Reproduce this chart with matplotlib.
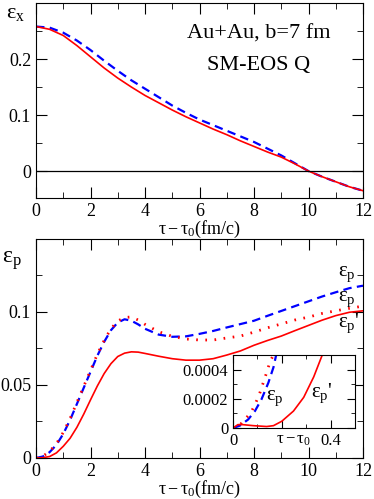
import matplotlib
matplotlib.use("Agg")
import matplotlib.pyplot as plt
from matplotlib.ticker import MultipleLocator

plt.rcParams["font.family"] = ["Liberation Serif", "DejaVu Serif"]
plt.rcParams["mathtext.fontset"] = "stix"
plt.rcParams["mathtext.default"] = "regular"

# top panel: spatial eccentricity
t_x = [0, 0.5, 1, 1.5, 2, 2.5, 3, 3.5, 4, 4.5, 5, 5.5, 6, 6.5, 7, 7.5, 8,
       8.5, 9, 9.5, 10, 10.5, 11, 11.5, 12]
ex_solid = [0.258, 0.253, 0.242, 0.224, 0.204, 0.184, 0.166, 0.150, 0.135,
            0.122, 0.109, 0.097, 0.086, 0.075, 0.065, 0.054, 0.044, 0.034,
            0.025, 0.013, 0.0, -0.010, -0.019, -0.028, -0.035]
ex_dash = [0.258, 0.256, 0.247, 0.233, 0.216, 0.197, 0.179, 0.162, 0.147,
           0.132, 0.117, 0.104, 0.092, 0.082, 0.072, 0.062, 0.052, 0.040,
           0.028, 0.014, 0.0, -0.010, -0.019, -0.028, -0.035]

# bottom panel: momentum anisotropy
t_p = [0, 0.25, 0.5, 0.75, 1, 1.25, 1.5, 1.75, 2, 2.25, 2.5, 2.75, 3, 3.25,
       3.5, 3.75, 4, 4.5, 5, 5.5, 6, 6.5, 7, 7.5, 8, 8.5, 9, 9.5, 10, 10.5,
       11, 11.5, 12]
ep_dash = [0, 0.001, 0.004, 0.009, 0.0165, 0.026, 0.037, 0.048, 0.059, 0.070,
           0.0795, 0.0875, 0.0928, 0.0950, 0.094, 0.0915, 0.0885, 0.0845,
           0.0830, 0.0833, 0.085, 0.087, 0.0894, 0.0917, 0.094, 0.0974,
           0.1007, 0.104, 0.1073, 0.1106, 0.1135, 0.1163, 0.118]
ep_dot = [0, 0.0012, 0.0045, 0.0098, 0.0175, 0.027, 0.038, 0.049, 0.060,
          0.071, 0.0805, 0.0885, 0.0938, 0.0962, 0.0966, 0.0945, 0.0915,
          0.0865, 0.0833, 0.0815, 0.0808, 0.0808, 0.0822, 0.0835, 0.0862,
          0.0892, 0.0918, 0.0945, 0.0965, 0.0990, 0.1008, 0.1025, 0.104]
ep_solid = [0, 0.0002, 0.001, 0.0035, 0.008, 0.0135, 0.021, 0.030, 0.0398,
            0.0493, 0.0578, 0.0646, 0.0695, 0.0718, 0.0727, 0.0725, 0.0716,
            0.0697, 0.068, 0.067, 0.067, 0.068, 0.0705, 0.0733, 0.0772,
            0.0805, 0.0835, 0.0872, 0.0908, 0.0944, 0.0975, 0.0998, 0.1008]

# inset: early times
ti_dot = [0, 0.02, 0.048, 0.073, 0.09, 0.108, 0.124, 0.138, 0.152, 0.166]
ei_dot = [0, 0.000005, 0.000058, 0.000104, 0.00016, 0.00023, 0.00031,
          0.00038, 0.000455, 0.0005]
ti_dash = [0, 0.028, 0.062, 0.09, 0.117, 0.145, 0.166, 0.177]
ei_dash = [0, 0.000016, 0.000058, 0.000116, 0.000197, 0.00031, 0.000416, 0.0005]
ti_solid = [0, 0.02, 0.04, 0.083, 0.138, 0.166, 0.2, 0.248, 0.29, 0.331, 0.366]
ei_solid = [0, 0.000023, 0.000023, 0.000016, 0.00001, 0.000016, 0.000046,
            0.000116, 0.00021, 0.00035, 0.0005]

RED = "#ff0000"
BLUE = "#0000ff"
fs = 13
DASH = (3.8, 2.4)
DOT = (0.6, 2.7)


def style(ax, size=fs):
    ax.tick_params(which="both", direction="in", top=True, right=True,
                   labelsize=size)
    ax.tick_params(which="major", length=8)
    ax.tick_params(which="minor", length=4)


fig = plt.figure(figsize=(3.74, 4.99), dpi=100)

# top panel
ax1 = fig.add_axes([0.0963, 0.6032, 0.8743, 0.3908])
ax1.plot(t_x, ex_dash, color=BLUE, lw=1.6, dashes=DASH)
ax1.plot(t_x, ex_solid, color=RED, lw=1.2)
ax1.axhline(0, color="black", lw=0.9)
ax1.set_xlim(0, 12)
ax1.set_ylim(-0.048, 0.3)
ax1.set_yticks([0, 0.1, 0.2])
ax1.set_yticklabels(["0", "0.1", "0.2"])
ax1.xaxis.set_major_locator(MultipleLocator(2))
ax1.xaxis.set_minor_locator(MultipleLocator(1))
ax1.yaxis.set_minor_locator(MultipleLocator(0.05))
style(ax1)
ax1.set_xlabel(r"$\tau-\tau_0$(fm/c)", fontsize=fs, labelpad=-1)
ax1.text(0.68, 0.84, "Au+Au, b=7 fm", transform=ax1.transAxes,
         fontsize=16, ha="center", va="center")
ax1.text(0.68, 0.68, "SM-EOS Q", transform=ax1.transAxes,
         fontsize=16, ha="center", va="center")
fig.text(0.015, 0.964, r"$\varepsilon_x$", fontsize=16, va="baseline")

# bottom panel
ax2 = fig.add_axes([0.0963, 0.0822, 0.8743, 0.4389])
ax2.plot(t_p, ep_dash, color=BLUE, lw=1.6, dashes=DASH)
ax2.plot(t_p, ep_dot, color=RED, lw=2.0, dashes=DOT)
ax2.plot(t_p, ep_solid, color=RED, lw=1.2)
ax2.set_xlim(0, 12)
ax2.set_ylim(0, 0.15)
ax2.set_yticks([0, 0.05, 0.1])
ax2.set_yticklabels(["0", "0.05", "0.1"])
ax2.xaxis.set_major_locator(MultipleLocator(2))
ax2.xaxis.set_minor_locator(MultipleLocator(1))
ax2.yaxis.set_minor_locator(MultipleLocator(0.025))
style(ax2)
ax2.set_xlabel(r"$\tau-\tau_0$(fm/c)", fontsize=fs, labelpad=-1)
fig.text(0.006, 0.473, r"$\varepsilon_p$", fontsize=17, va="baseline")
fig.text(0.905, 0.447, r"$\varepsilon_p$", fontsize=15, va="baseline")
fig.text(0.905, 0.397, r"$\varepsilon_p$", fontsize=15, va="baseline")
fig.text(0.905, 0.345, r"$\varepsilon_p$'", fontsize=15, va="baseline")

# inset
ax3 = fig.add_axes([0.623, 0.1423, 0.326, 0.1463])
ax3.plot(ti_dash, ei_dash, color=BLUE, lw=1.6, dashes=DASH)
ax3.plot(ti_dot, ei_dot, color=RED, lw=2.0, dashes=DOT)
ax3.plot(ti_solid, ei_solid, color=RED, lw=1.2)
ax3.set_xlim(0, 0.5)
ax3.set_ylim(0, 0.0005)
ax3.set_xticks([0, 0.2, 0.4])
ax3.set_xticklabels(["0", "", "0.4"])
ax3.set_yticks([0, 0.0002, 0.0004])
ax3.set_yticklabels(["0", "0.0002", "0.0004"])
ax3.xaxis.set_minor_locator(MultipleLocator(0.1))
ax3.yaxis.set_minor_locator(MultipleLocator(0.0001))
style(ax3, size=12)
ax3.tick_params(which="major", length=6)
ax3.tick_params(which="minor", length=3)
ax3.text(0.5, -0.06, r"$\tau-\tau_0$", transform=ax3.transAxes,
         fontsize=12, ha="center", va="top")
ax3.text(0.27, 0.38, r"$\varepsilon_p$", transform=ax3.transAxes,
         fontsize=15, ha="left", va="baseline")
ax3.text(0.64, 0.42, r"$\varepsilon_p$'", transform=ax3.transAxes,
         fontsize=15, ha="left", va="baseline")

fig.savefig("out.png", dpi=100)
